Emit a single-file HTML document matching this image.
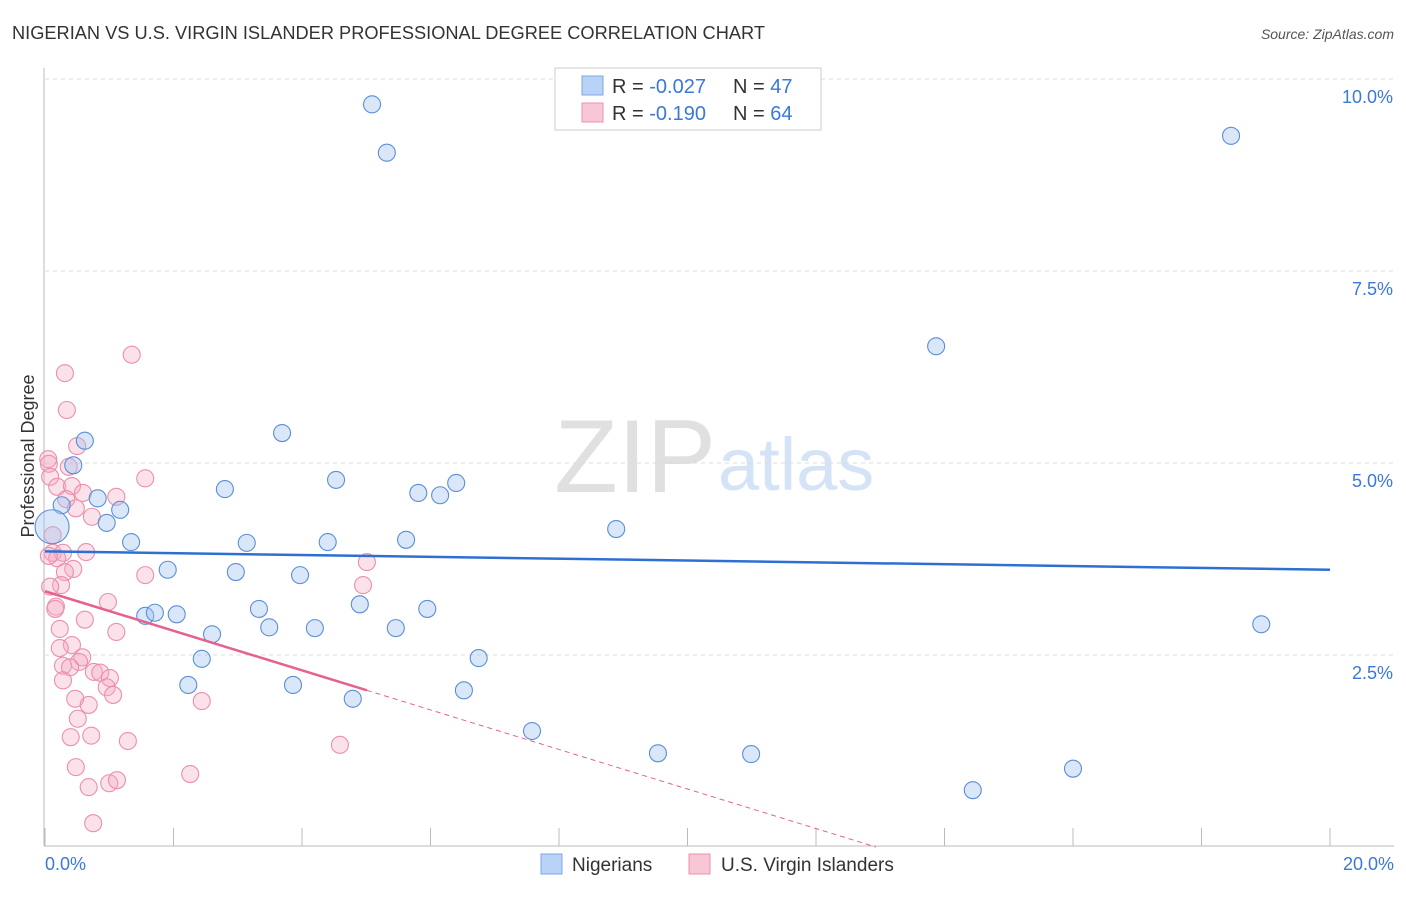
<!DOCTYPE html>
<html><head><meta charset="utf-8"><style>
body{margin:0;background:#fff;font-family:"Liberation Sans",sans-serif;}
svg text{font-family:"Liberation Sans",sans-serif;}
</style></head><body>
<svg id="c" width="1406" height="892">
<text x="12" y="39" font-size="18" fill="#333" textLength="753" lengthAdjust="spacingAndGlyphs">NIGERIAN VS U.S. VIRGIN ISLANDER PROFESSIONAL DEGREE CORRELATION CHART</text>
<text x="1394" y="39" font-size="14" fill="#555" font-style="italic" text-anchor="end">Source: ZipAtlas.com</text>
<text x="716" y="492" font-size="104" fill="#e0e0e0" text-anchor="end" font-family="Liberation Serif">ZIP</text>
<text x="718" y="490" font-size="74" fill="#d4e3f6">atlas</text>
<g id="grid"></g><g id="axes"></g><g id="marks"></g>
<text transform="translate(34,456) rotate(-90)" font-size="18" fill="#333" text-anchor="middle">Professional Degree</text>
<g>
<rect x="555" y="68" width="266" height="62" fill="#fff" stroke="#ccc"/>
<rect x="582" y="76" width="21" height="19" fill="#b8d3f5" stroke="#7aa7e3"/>
<text x="612" y="93" font-size="20" fill="#333">R = <tspan fill="#3b78d8">-0.027</tspan></text>
<text x="733" y="93" font-size="20" fill="#333">N = <tspan fill="#3b78d8">47</tspan></text>
<rect x="582" y="103" width="21" height="19" fill="#f9c6d5" stroke="#ec93ad"/>
<text x="612" y="120" font-size="20" fill="#333">R = <tspan fill="#3b78d8"> -0.190</tspan></text>
<text x="733" y="120" font-size="20" fill="#333">N = <tspan fill="#3b78d8">64</tspan></text>
</g>
<g>
<rect x="541" y="854" width="21" height="20" fill="#b8d3f5" stroke="#7aa7e3"/>
<text x="572" y="871" font-size="19" fill="#333">Nigerians</text>
<rect x="689" y="854" width="21" height="20" fill="#f9c6d5" stroke="#ec93ad"/>
<text x="721" y="871" font-size="19" fill="#333">U.S. Virgin Islanders</text>
</g>
</svg>
<script>
const blueX=[5.09,5.32,18.46,13.87,3.69,0.62,0.44,0.82,0.26,0.11,1.17,0.96,2.80,4.53,5.81,6.15,6.40,8.89,1.34,3.14,4.40,5.62,1.91,2.97,3.97,4.90,1.56,1.71,2.05,3.33,5.95,2.60,3.49,4.20,5.46,2.44,6.75,2.23,3.86,6.52,4.79,7.58,9.54,10.99,14.44,16.00,18.93];
const blueY=[9.67,9.04,9.26,6.52,5.39,5.29,4.97,4.54,4.45,4.17,4.39,4.22,4.66,4.78,4.61,4.58,4.74,4.14,3.97,3.96,3.97,4.00,3.61,3.58,3.54,3.16,3.01,3.05,3.03,3.10,3.10,2.77,2.86,2.85,2.85,2.45,2.46,2.11,2.11,2.04,1.93,1.51,1.22,1.21,0.74,1.02,2.90];
const pinkX=[1.35,0.31,0.34,0.50,0.05,0.06,0.37,0.08,1.56,0.19,0.42,0.59,1.11,0.33,0.48,0.73,0.12,0.64,0.12,0.28,0.19,0.06,0.44,0.31,1.56,0.25,0.08,0.98,0.17,0.16,0.62,1.11,0.23,0.42,0.23,0.58,0.53,0.28,0.39,0.76,0.86,1.01,0.28,0.96,1.06,0.47,0.68,0.51,0.40,0.72,1.29,0.48,0.68,1.00,1.12,0.75,2.44,2.26,5.01,4.95,4.59];
const pinkY=[6.41,6.17,5.69,5.22,5.05,4.99,4.95,4.82,4.80,4.69,4.70,4.61,4.56,4.53,4.41,4.30,4.06,3.84,3.83,3.83,3.76,3.79,3.62,3.58,3.54,3.41,3.39,3.19,3.13,3.10,2.96,2.80,2.84,2.63,2.59,2.47,2.41,2.36,2.34,2.28,2.27,2.20,2.17,2.08,1.98,1.93,1.85,1.67,1.43,1.45,1.38,1.04,0.78,0.83,0.87,0.31,1.90,0.95,3.71,3.41,1.33];
const yTicks=[2.5,5.0,7.5,10.0];
const yTickLabels=["2.5%","5.0%","7.5%","10.0%"];
const xTicks=[0,2,4,6,8,10,12,14,16,18,20];
const blueTrend=[3.85,3.61];
const pinkTrend=[3.33,2.04];
const pinkSolidEnd=5.01;
const NS="http://www.w3.org/2000/svg";
const sx=v=>45+v*64.25, sy=v=>847-v*76.8;
function mk(tag,attrs,parent){const e=document.createElementNS(NS,tag);for(const k in attrs)e.setAttribute(k,attrs[k]);document.getElementById(parent).appendChild(e);return e;}
yTicks.forEach((t,i)=>{
 const g=mk('line',{x1:45,x2:1394,y1:sy(t),y2:sy(t),stroke:'#ddd','stroke-dasharray':'4,4'},'grid');
 
 
 const l=mk('text',{x:1393,y:sy(t)+24,'font-size':18,fill:'#3b78d8','text-anchor':'end'},'grid');
 l.textContent=yTickLabels[i];
 
 
});
const ax=mk('line',{x1:44,x2:44,y1:68,y2:846,stroke:'#bbb'},'axes');


const bx=mk('line',{x1:44,x2:1394,y1:846,y2:846,stroke:'#bbb'},'axes');


xTicks.forEach(t=>{const l=mk('line',{x1:sx(t),x2:sx(t),y1:828,y2:846,stroke:'#bbb'},'axes');
 
 });
const x0=mk('text',{x:45,y:870,'font-size':18,fill:'#3b78d8'},'axes');x0.textContent='0.0%';


const x1=mk('text',{x:1394,y:870,'font-size':18,fill:'#3b78d8','text-anchor':'end'},'axes');x1.textContent='20.0%';


pinkX.forEach((x,i)=>{const c=mk('circle',{cx:sx(x),cy:sy(pinkY[i]),r:8.5,fill:'rgba(244,170,195,0.35)',stroke:'#ec8fab','stroke-width':1.1},'marks');
 
 });
blueX.forEach((x,i)=>{const c=mk('circle',{cx:sx(x),cy:sy(blueY[i]),r:i===9?17:8.5,fill:'rgba(160,195,240,0.4)',stroke:'#5b8fd6','stroke-width':1.1},'marks');
 
 });
const bt=mk('line',{x1:sx(0),y1:sy(blueTrend[0]),x2:sx(20),y2:sy(blueTrend[1]),stroke:'#2f6fd4','stroke-width':2.5},'marks');


const slope=(pinkTrend[1]-pinkTrend[0])/pinkSolidEnd, xz=-pinkTrend[0]/slope;
const pt=mk('line',{x1:sx(0),y1:sy(pinkTrend[0]),x2:sx(pinkSolidEnd),y2:sy(pinkTrend[1]),stroke:'#e5628c','stroke-width':2.5},'marks');


const pd=mk('line',{x1:sx(pinkSolidEnd),y1:sy(pinkTrend[1]),x2:sx(xz),y2:sy(0),stroke:'#e5628c','stroke-width':1,'stroke-dasharray':'5,4'},'marks');


</script>
</body></html>
